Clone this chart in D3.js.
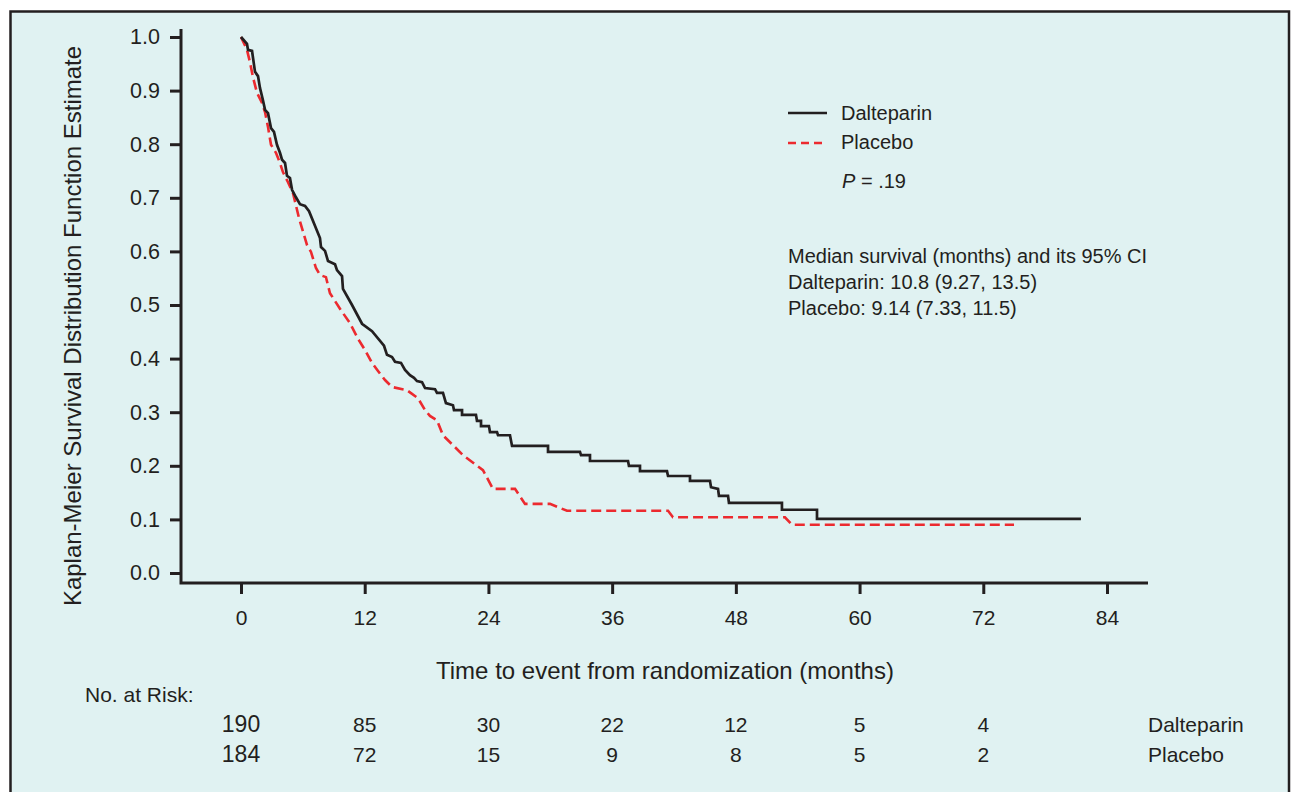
<!DOCTYPE html>
<html>
<head>
<meta charset="utf-8">
<script src="https://cdn.jsdelivr.net/npm/d3@7"></script>
<style>
  body { margin: 0; background: #fff; }
  svg { display: block; }
  text { font-family: "Liberation Sans", Arial, Helvetica, sans-serif; fill: #231f20; }
</style>
</head>
<body>
<div class="chart"></div>
<script>
// Data: [months, survival estimate]
var dalteparin = [
  [0, 1.0], [0.58, 0.987], [0.68, 0.976], [1.07, 0.974], [1.36, 0.935], [1.65, 0.927],
  [1.84, 0.905], [2.13, 0.882], [2.33, 0.864], [2.62, 0.858], [2.91, 0.830], [3.2, 0.823],
  [3.49, 0.799], [3.78, 0.784], [3.98, 0.771], [4.27, 0.765], [4.46, 0.741], [4.75, 0.737],
  [4.95, 0.715], [5.33, 0.701], [5.72, 0.688], [6.21, 0.685], [6.6, 0.675], [7.66, 0.625],
  [7.76, 0.608], [8.15, 0.601], [8.44, 0.582], [9.12, 0.576], [9.31, 0.565], [9.8, 0.554],
  [9.89, 0.530], [10.77, 0.500], [11.74, 0.465], [12.71, 0.451], [13.87, 0.424], [14.16, 0.407],
  [14.65, 0.403], [14.94, 0.394], [15.52, 0.392], [15.91, 0.379], [16.39, 0.369], [16.78, 0.364],
  [17.07, 0.358], [17.56, 0.356], [17.85, 0.345], [18.82, 0.343], [19.01, 0.336], [19.59, 0.336],
  [19.88, 0.317], [20.56, 0.313], [20.66, 0.304], [21.44, 0.304], [21.44, 0.295], [22.79, 0.295],
  [22.89, 0.284], [23.28, 0.284], [23.28, 0.274], [24.05, 0.274], [24.15, 0.263], [24.83, 0.263],
  [24.93, 0.257], [26.09, 0.257], [26.29, 0.237], [29.78, 0.237], [29.78, 0.226], [32.88, 0.226],
  [32.98, 0.220], [33.85, 0.220], [33.85, 0.209], [37.54, 0.209], [37.63, 0.200], [38.7, 0.200],
  [38.7, 0.190], [41.32, 0.190], [41.42, 0.181], [43.55, 0.181], [43.55, 0.172], [45.49, 0.172],
  [45.59, 0.160], [46.27, 0.157], [46.36, 0.144], [47.24, 0.144], [47.33, 0.131], [52.47, 0.131],
  [52.47, 0.118], [55.87, 0.118], [55.87, 0.101], [81.47, 0.101]
];
var placebo = [
  [0, 1.0], [0.58, 0.976], [0.87, 0.953], [1.16, 0.925], [1.55, 0.896], [2.04, 0.877],
  [2.33, 0.860], [2.62, 0.832], [2.91, 0.799], [3.39, 0.784], [3.78, 0.765], [4.07, 0.748],
  [4.56, 0.729], [5.04, 0.709], [5.63, 0.662], [6.4, 0.612], [6.79, 0.599], [7.27, 0.569],
  [7.66, 0.556], [8.24, 0.552], [8.63, 0.522], [9.6, 0.493], [10.57, 0.466], [11.35, 0.437],
  [12.03, 0.416], [12.71, 0.392], [13.29, 0.377], [13.97, 0.360], [14.65, 0.347], [16.1, 0.341],
  [17.17, 0.326], [17.85, 0.304], [18.33, 0.293], [19.01, 0.285], [19.59, 0.257], [21.53, 0.220],
  [23.47, 0.192], [24.44, 0.157], [26.58, 0.157], [27.55, 0.129], [29.97, 0.129], [31.62, 0.116],
  [41.42, 0.116], [41.9, 0.104], [52.76, 0.104], [53.44, 0.090], [74.98, 0.090]
];
var xTicks = [0, 12, 24, 36, 48, 60, 72, 84];
var yTicks = [0, 0.1, 0.2, 0.3, 0.4, 0.5, 0.6, 0.7, 0.8, 0.9, 1.0];
var riskTimes = [0, 12, 24, 36, 48, 60, 72];
var riskDalteparin = [190, 85, 30, 22, 12, 5, 4];
var riskPlacebo = [184, 72, 15, 9, 8, 5, 2];
var medianLines = [
  "Median survival (months) and its 95% CI",
  "Dalteparin: 10.8 (9.27, 13.5)",
  "Placebo: 9.14 (7.33, 11.5)"
];

var ink = "#231f20";
var red = "#ec2a2f";

var svg = d3.select(".chart").append("svg")
  .attr("width", 1291)
  .attr("height", 792);

// panel
svg.append("rect")
  .attr("x", 10.5).attr("y", 11.5)
  .attr("width", 1278.5).attr("height", 800)
  .attr("fill", "#e0f2f2")
  .attr("stroke", ink)
  .attr("stroke-width", 2.5);

var x = d3.scaleLinear().domain([0, 84]).range([241, 1107]);
var y = d3.scaleLinear().domain([0, 1]).range([573, 37]);

// axes
var leftAxis = d3.axisLeft(y).tickValues(yTicks).tickSize(11).tickPadding(10)
  .tickFormat(d3.format(".1f"));
var bottomAxis = d3.axisBottom(x).tickValues(xTicks).tickSize(11).tickPadding(16);

var gy = svg.append("g").attr("transform", "translate(181,0)").call(leftAxis);
var gx = svg.append("g").attr("transform", "translate(0,583)").call(bottomAxis);
[gy, gx].forEach(function(g) {
  g.select(".domain").remove();
  g.selectAll(".tick line").attr("stroke", ink).attr("stroke-width", 3);
  g.selectAll(".tick text").attr("fill", ink)
    .style("font-family", "'Liberation Sans', Arial, sans-serif");
});
gy.selectAll(".tick text").style("font-size", "21.5px");
gx.selectAll(".tick text").style("font-size", "21px");

svg.append("path")
  .attr("d", "M181,29V583H1148")
  .attr("fill", "none")
  .attr("stroke", ink)
  .attr("stroke-width", 3);

// curves
var line = d3.line()
  .x(function(d) { return x(d[0]); })
  .y(function(d) { return y(d[1]); });

svg.append("path")
  .datum(placebo)
  .attr("d", line)
  .attr("fill", "none")
  .attr("stroke", red)
  .attr("stroke-width", 2.6)
  .attr("stroke-dasharray", "10,5");

svg.append("path")
  .datum(dalteparin)
  .attr("d", line)
  .attr("fill", "none")
  .attr("stroke", ink)
  .attr("stroke-width", 2.7)
  .attr("stroke-linejoin", "miter");

// axis titles
svg.append("text")
  .attr("transform", "translate(81,326) rotate(-90)")
  .attr("text-anchor", "middle")
  .style("font-size", "24px")
  .text("Kaplan-Meier Survival Distribution Function Estimate");

svg.append("text")
  .attr("x", 665).attr("y", 679)
  .attr("text-anchor", "middle")
  .style("font-size", "24px")
  .text("Time to event from randomization (months)");

// legend
var legend = svg.append("g");
legend.append("line")
  .attr("x1", 788).attr("x2", 827).attr("y1", 113).attr("y2", 113)
  .attr("stroke", ink).attr("stroke-width", 2.6);
legend.append("line")
  .attr("x1", 788).attr("x2", 827).attr("y1", 143).attr("y2", 143)
  .attr("stroke", red).attr("stroke-width", 2.6).attr("stroke-dasharray", "8,5");
legend.append("text").attr("x", 841).attr("y", 120).style("font-size", "20px").text("Dalteparin");
legend.append("text").attr("x", 841).attr("y", 149).style("font-size", "20px").text("Placebo");

var pText = legend.append("text").attr("x", 842).attr("y", 188).style("font-size", "20px");
pText.append("tspan").style("font-style", "italic").text("P");
pText.append("tspan").text(" = .19");

legend.selectAll(".median")
  .data(medianLines)
  .enter()
  .append("text")
  .attr("class", "median")
  .attr("x", 788)
  .attr("y", function(d, i) { return 263 + i * 26; })
  .style("font-size", "20px")
  .text(function(d) { return d; });

// number at risk
svg.append("text")
  .attr("x", 85).attr("y", 702)
  .style("font-size", "21px")
  .text("No. at Risk:");

[[riskDalteparin, 732, "Dalteparin"], [riskPlacebo, 762, "Placebo"]].forEach(function(row) {
  svg.selectAll(null)
    .data(row[0])
    .enter()
    .append("text")
    .attr("x", function(d, i) { return x(riskTimes[i]); })
    .attr("y", row[1])
    .attr("text-anchor", "middle")
    .style("font-size", function(d, i) { return i === 0 ? "23px" : "21px"; })
    .text(function(d) { return d; });
  svg.append("text")
    .attr("x", 1148).attr("y", row[1])
    .style("font-size", "21px")
    .text(row[2]);
});
</script>
</body>
</html>
